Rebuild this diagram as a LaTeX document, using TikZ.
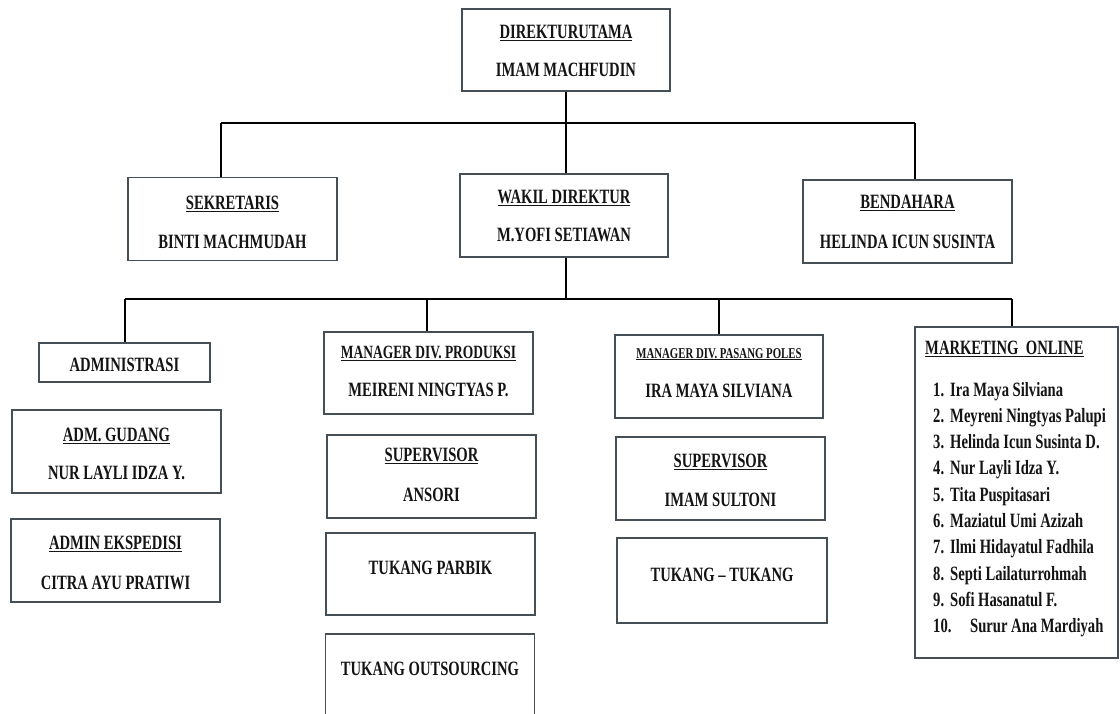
\documentclass[tikz,border=0pt]{standalone}
\usepackage{fontspec}
\setmainfont[FakeStretch=0.72]{Liberation Serif}
\definecolor{boxc}{RGB}{70,78,86}
\definecolor{ink}{RGB}{20,20,20}
\begin{document}
\begin{tikzpicture}[x=1pt,y=-1pt,
  box/.style={draw=boxc, line width=1.6pt, fill=white, inner sep=0pt, minimum width=209pt, minimum height=83pt},
  txt/.style={anchor=base, inner sep=0pt, text=ink, font=\bfseries\fontsize{20.3}{24}\selectfont},
  smalltxt/.style={txt, font=\bfseries\fontsize{18.7}{22}\selectfont},
  tinytxt/.style={txt, font=\bfseries\fontsize{15}{18}\selectfont},
  listtxt/.style={anchor=base west, inner sep=0pt, text=ink, font=\bfseries\fontsize{20.3}{24}\selectfont},
  conn/.style={draw=black, line width=1.4pt}]
\useasboundingbox[fill=white] (0,0) rectangle (1120,713);

% boxes
\node[box, minimum width=208pt, minimum height=82pt] (top) at (566,50) {};
\node[box] (sek) at (232.5,219) {};
\node[box, minimum width=208pt] (wakil) at (564,215.5) {};
\node[box] (bend) at (907.5,221.5) {};
\node[box, minimum width=171pt, minimum height=39pt] (admin) at (124.5,362.5) {};
\node[box] (gudang) at (116.5,451.5) {};
\node[box] (eksped) at (115.5,560.5) {};
\node[box, minimum height=82pt] (prod) at (428.5,373) {};
\node[box] (sup1) at (431.5,476.5) {};
\node[box, minimum height=82pt] (parbik) at (430.5,574) {};
\node[box, minimum height=84pt] (outs) at (430,676) {};
\node[box, minimum width=208pt] (poles) at (719,376.5) {};
\node[box] (sup2) at (720.5,478.5) {};
\node[box, minimum width=210pt, minimum height=85pt] (tukang) at (722,580.5) {};
\node[box, minimum width=203pt, minimum height=331pt] (mkt) at (1016.5,492.5) {};

% texts
\node[txt] (t1) at (566,38.5) {\underline{DIREKTURUTAMA}};
\node[txt] (t2) at (566,76.5) {IMAM MACHFUDIN};
\node[txt] (t3) at (232.5,209.5) {\underline{SEKRETARIS}};
\node[txt] (t4) at (232.5,248.5) {BINTI MACHMUDAH};
\node[txt] (t5) at (564,203.5) {\underline{WAKIL DIREKTUR}};
\node[txt] (t6) at (564,241.5) {M.YOFI SETIAWAN};
\node[txt] (t7) at (907.5,208.5) {\underline{BENDAHARA}};
\node[txt] (t8) at (907.5,248.5) {HELINDA ICUN SUSINTA};
\node[txt] (t9) at (124.5,371.5) {ADMINISTRASI};
\node[txt] (t10) at (116.5,441.5) {\underline{ADM. GUDANG}};
\node[txt] (t11) at (116.5,479.5) {NUR LAYLI IDZA Y.};
\node[txt] (t12) at (115.5,549.5) {\underline{ADMIN EKSPEDISI}};
\node[txt] (t13) at (115.5,589.5) {CITRA AYU PRATIWI};
\node[smalltxt] (t14) at (428.5,358.5) {\underline{MANAGER DIV. PRODUKSI}};
\node[txt] (t15) at (428.5,396.5) {MEIRENI NINGTYAS P.};
\node[txt] (t16) at (431.5,461.5) {\underline{SUPERVISOR}};
\node[txt] (t17) at (431.5,501.5) {ANSORI};
\node[txt] (t18) at (430.5,574.5) {TUKANG PARBIK};
\node[txt] (t19) at (430,675.5) {TUKANG OUTSOURCING};
\node[tinytxt] (t20) at (719,358) {\underline{MANAGER DIV. PASANG POLES}};
\node[txt] (t21) at (719,397.5) {IRA MAYA SILVIANA};
\node[txt] (t22) at (720.5,467.5) {\underline{SUPERVISOR}};
\node[txt] (t23) at (720.5,506.5) {IMAM SULTONI};
\node[txt] (t24) at (722,581.5) {TUKANG -- TUKANG};
\node[listtxt] (t25) at (925,354.5) {\underline{MARKETING\ \ ONLINE}};

\foreach \n/\name [count=\i from 0] in {1./Ira Maya Silviana,2./Meyreni Ningtyas Palupi,3./Helinda Icun Susinta D.,4./Nur Layli Idza Y.,5./Tita Puspitasari,6./Maziatul Umi Azizah,7./Ilmi Hidayatul Fadhila,8./Septi Lailaturrohmah,9./Sofi Hasanatul F.}{
  \node[listtxt] (n\i) at (933,{396+26.3*\i}) {\n};
  \node[listtxt] (m\i) at (950,{396+26.3*\i}) {\name};
}
\node[listtxt] (n9) at (933,632.7) {10.};
\node[listtxt] (m9) at (970,632.7) {Surur Ana Mardiyah};

% connectors
\coordinate (busL) at (221,123);
\coordinate (busR) at (915,123);
\coordinate (bus2L) at (125,299);
\coordinate (bus2R) at (1012,299);
\coordinate (dP) at (427,299);
\draw[conn] (busL) -- (busR);
\draw[conn] (top.south) -- (top.south |- wakil.north);
\draw[conn] (busL) -- (busL |- sek.north);
\draw[conn] (busR) -- (busR |- bend.north);
\draw[conn] (wakil.south -| top.south) -- (top.south |- bus2L);
\draw[conn] (bus2L) -- (bus2R);
\draw[conn] (bus2L) -- (bus2L |- admin.north);
\draw[conn] (dP) -- (dP |- prod.north);
\draw[conn] (poles.north |- bus2L) -- (poles.north);
\draw[conn] (bus2R) -- (bus2R |- mkt.north);
\end{tikzpicture}
\end{document}
